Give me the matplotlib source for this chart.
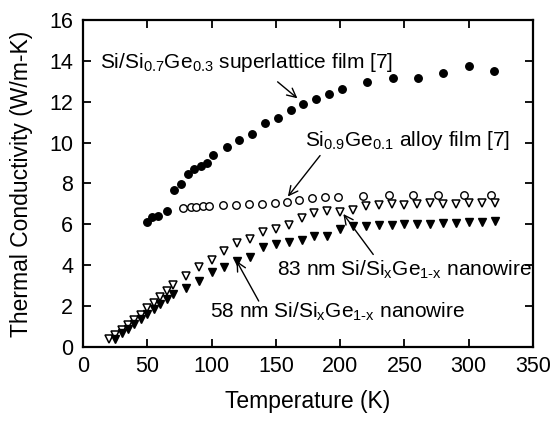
import matplotlib
matplotlib.use("Agg")
import matplotlib.pyplot as plt

plt.rcParams['font.family'] = ['Liberation Sans', 'DejaVu Sans']
plt.rcParams['mathtext.fontset'] = 'custom'
plt.rcParams['mathtext.rm'] = 'Liberation Sans'
plt.rcParams['mathtext.it'] = 'Liberation Sans'

# Si/Si0.7Ge0.3 superlattice film (filled circles)
sl_T = [50, 54, 58, 65.6, 71, 76, 81.5, 86.6, 91.6, 96.3, 101.4, 111.8, 121.6, 131.5,
        141.6, 151.7, 161.6, 171.4, 181.3, 191.4, 201.5, 221.2, 240.9, 260.3, 280.2, 300.2, 319.7]
sl_k = [6.12, 6.37, 6.4, 6.66, 7.67, 7.95, 8.44, 8.69, 8.85, 9.01, 9.37, 9.78, 10.12, 10.42,
        10.94, 11.21, 11.59, 11.89, 12.12, 12.36, 12.6, 12.96, 13.17, 13.17, 13.4, 13.75, 13.5]

# Si0.9Ge0.1 alloy film (open circles)
al_T = [78, 84, 88, 93, 98, 109, 119, 129, 139, 149, 159, 168, 178, 188, 198,
        218, 238, 257, 276, 296, 317]
al_k = [6.8, 6.82, 6.85, 6.87, 6.88, 6.92, 6.94, 6.97, 7.0, 7.05, 7.1, 7.18, 7.27, 7.32, 7.35,
        7.4, 7.42, 7.43, 7.43, 7.43, 7.43]

# 83 nm nanowire (open triangles)
nw83_T = [20, 25, 30, 35, 40, 45, 50, 55, 60, 65, 70, 80, 90, 100, 110, 120, 130, 140, 150,
          160, 170, 180, 190, 200, 210, 220, 230, 240, 250, 260, 270, 280, 290, 300, 310, 320]
nw83_k = [0.36, 0.57, 0.82, 1.06, 1.31, 1.55, 1.88, 2.12, 2.45, 2.74, 3.02, 3.48, 3.93, 4.23,
          4.69, 5.06, 5.26, 5.63, 5.75, 5.96, 6.29, 6.53, 6.66, 6.61, 6.7, 6.9, 6.95, 7.0,
          6.95, 7.0, 7.05, 7.0, 7.0, 7.05, 7.05, 7.05]

# 58 nm nanowire (filled triangles)
nw58_T = [25, 30, 35, 40, 45, 50, 55, 60, 65, 70, 80, 90, 100, 110, 120, 130, 140, 150,
          160, 170, 180, 190, 200, 210, 220, 230, 240, 250, 260, 270, 280, 290, 300, 310, 320]
nw58_k = [0.4, 0.65, 0.85, 1.1, 1.35, 1.6, 1.85, 2.1, 2.35, 2.6, 2.86, 3.23, 3.66, 3.89,
          4.21, 4.38, 4.9, 5.03, 5.14, 5.23, 5.42, 5.42, 5.75, 5.9, 5.92, 5.95, 5.97, 6.0,
          6.0, 6.03, 6.05, 6.07, 6.1, 6.12, 6.15]

x_ticks = [0, 50, 100, 150, 200, 250, 300, 350]
y_ticks = [0, 2, 4, 6, 8, 10, 12, 14, 16]

fig = plt.figure(figsize=(5.53, 4.26), dpi=100)
ax = fig.add_axes([0.15, 0.186, 0.814, 0.767])

ax.plot(sl_T, sl_k, 'o', color='black', ms=5.4, ls='none')
ax.plot(al_T, al_k, 'o', mfc='white', mec='black', mew=1.0, ms=5.4, ls='none')
ax.plot(nw83_T, nw83_k, 'v', mfc='white', mec='black', mew=1.1, ms=6.3, ls='none')
ax.plot(nw58_T, nw58_k, 'v', color='black', ms=6.3, ls='none')

ax.set_xlim(0, 350)
ax.set_ylim(0, 16)
ax.set_xticks(x_ticks)
ax.set_yticks(y_ticks)
ax.tick_params(direction='in', length=6, width=1.3, top=True, right=True,
               labelsize=15.5, pad=7)
for s in ax.spines.values():
    s.set_linewidth(1.6)

ax.set_xlabel('Temperature (K)', fontsize=16.5, labelpad=9)
ax.set_ylabel('Thermal Conductivity (W/m-K)', fontsize=16.5, labelpad=12)

fs = 15
arrow = dict(arrowstyle='->', color='black', lw=1.0, mutation_scale=16)

ax.text(13.3, 13.9, r'Si/Si$_{0.7}$Ge$_{0.3}$ superlattice film [7]', fontsize=fs,
        va='center', ha='left')
ax.annotate('', xy=(168.4, 12.08), xytext=(149.7, 13.06), arrowprops=arrow)

ax.text(172.7, 10.1, r'Si$_{0.9}$Ge$_{0.1}$ alloy film [7]', fontsize=fs,
        va='center', ha='left')
ax.annotate('', xy=(158, 7.25), xytext=(185.7, 9.47), arrowprops=arrow)

ax.text(150.7, 3.76, r'83 nm Si/Si$_{\mathrm{x}}$Ge$_{1\text{-}\mathrm{x}}$ nanowire', fontsize=fs,
        va='center', ha='left')
ax.annotate('', xy=(201.2, 6.61), xytext=(227, 4.41), arrowprops=arrow)

ax.text(98.8, 1.71, r'58 nm Si/Si$_{\mathrm{x}}$Ge$_{1\text{-}\mathrm{x}}$ nanowire', fontsize=fs,
        va='center', ha='left')
ax.annotate('', xy=(118.3, 4.33), xytext=(137.7, 2.12), arrowprops=arrow)

fig.savefig('out.png', dpi=100)
